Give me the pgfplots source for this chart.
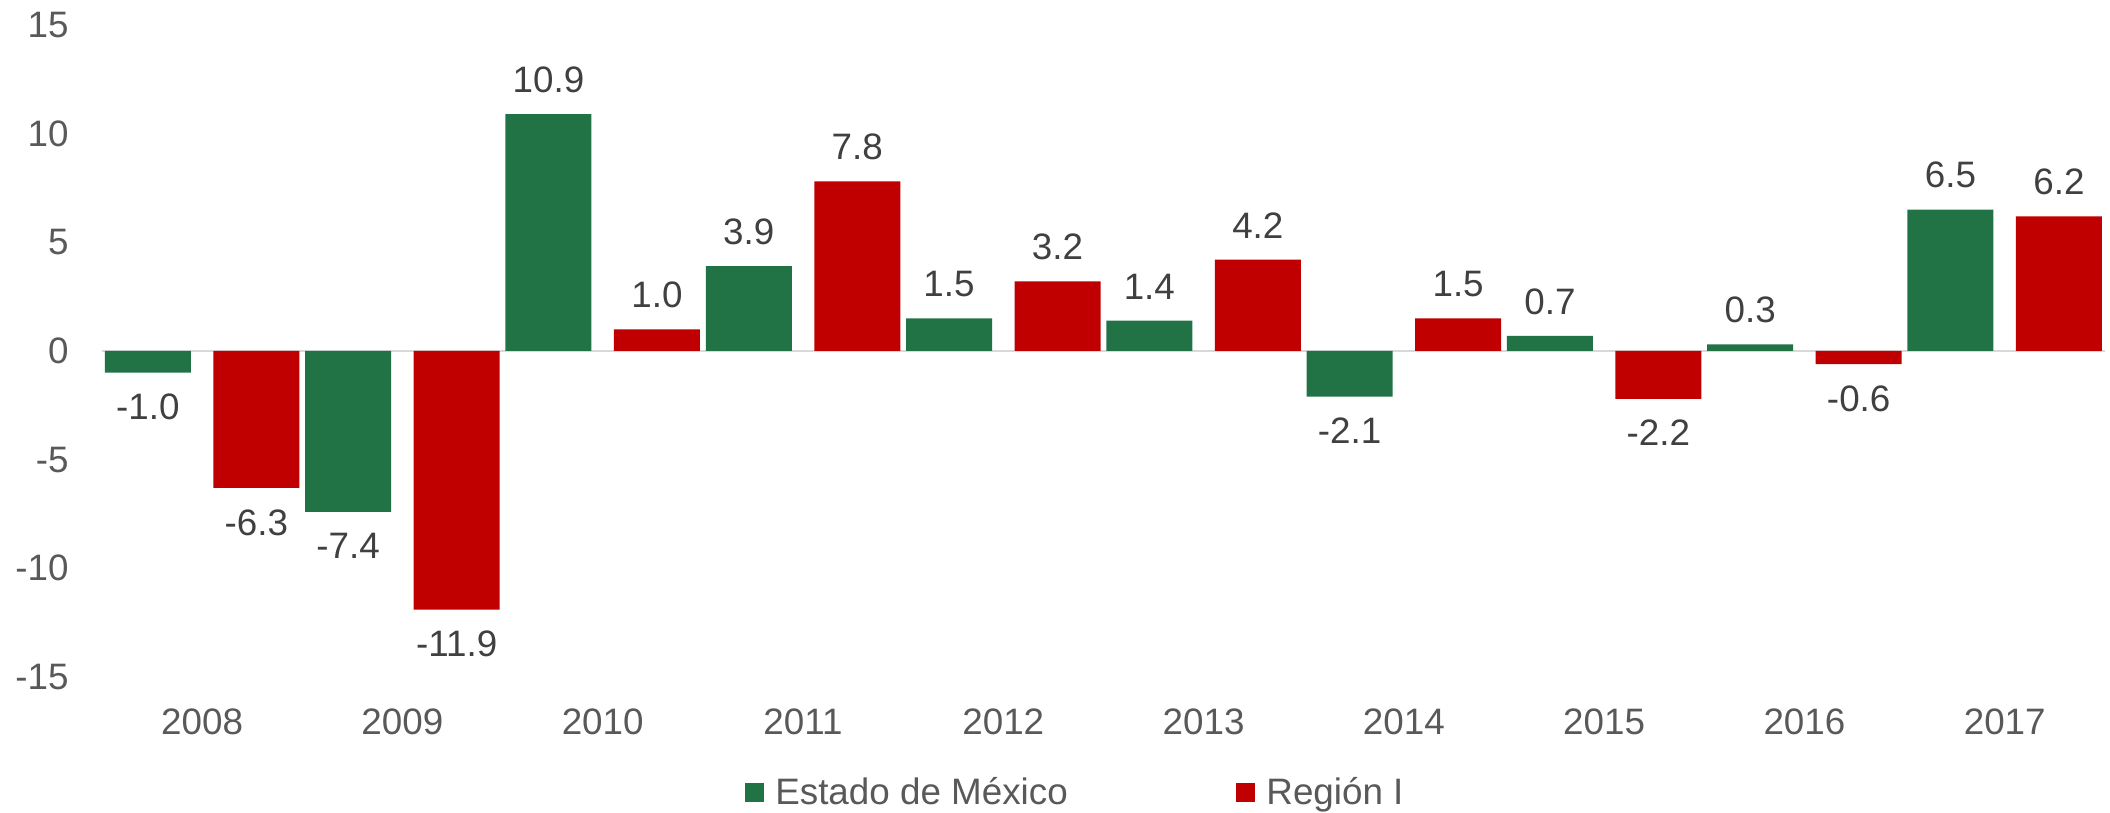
\documentclass[border=0pt]{standalone}
\usepackage{fontspec}
\setmainfont{Liberation Sans}
\usepackage{pgfplots}
\pgfplotsset{compat=1.18}
\definecolor{verde}{HTML}{217346}
\definecolor{rojo}{HTML}{C00000}
\definecolor{ticktext}{HTML}{595959}
\definecolor{labeltext}{HTML}{404040}
\definecolor{zeroline}{HTML}{D9D9D9}

\begin{document}
\begin{tikzpicture}[font=\fontsize{18.4}{22}\selectfont]
\useasboundingbox (-51pt,-68pt) rectangle (1004pt,338.5pt);
\begin{axis}[
  at={(0,0)}, anchor=south west,
  scale only axis, width=1001.5pt, height=326pt,
  ybar=11.25pt, bar width=43pt,
  xmin=-0.5, xmax=9.5, ymin=-15, ymax=15,
  ytick={-15,-10,-5,0,5,10,15},
  xtick={0,1,2,3,4,5,6,7,8,9},
  xticklabels={2008,2009,2010,2011,2012,2013,2014,2015,2016,2017},
  axis line style={draw=none},
  major tick length=0pt,
  /pgf/number format/assume math mode=true,
  yticklabel style={text=ticktext, inner xsep=0pt, xshift=-16.5pt},
  xticklabel style={text=ticktext, inner ysep=0pt, yshift=-15.5pt},
  extra y ticks={0}, extra y tick labels={},
  extra y tick style={grid=major, major grid style={draw=zeroline, line width=1pt}},
  nodes near coords={\pgfmathprintnumber[fixed,fixed zerofill,precision=1]{\pgfplotspointmeta}},
  every node near coord/.append style={text=labeltext, inner ysep=10.5pt},
  clip=false,
  legend columns=2,
  legend style={at={(0.3210,-0.1764)}, anchor=base west, draw=none, fill=none,
    inner sep=0pt, nodes={inner sep=0pt, text=ticktext},
    /tikz/every odd column/.append style={column sep=5.5pt},
    /tikz/every even column/.append style={column sep=84.3pt}},
  legend image code/.code={\fill[#1] (0pt,-5pt) rectangle (9.5pt,4.5pt);},
]
\addplot[fill=verde, draw=none] coordinates {(0,-1.0) (1,-7.4) (2,10.9) (3,3.9) (4,1.5) (5,1.4) (6,-2.1) (7,0.7) (8,0.3) (9,6.5)};
\addplot[fill=rojo, draw=none] coordinates {(0,-6.3) (1,-11.9) (2,1.0) (3,7.8) (4,3.2) (5,4.2) (6,1.5) (7,-2.2) (8,-0.6) (9,6.2)};
\legend{Estado de México, Región I}
\end{axis}
\end{tikzpicture}
\end{document}
